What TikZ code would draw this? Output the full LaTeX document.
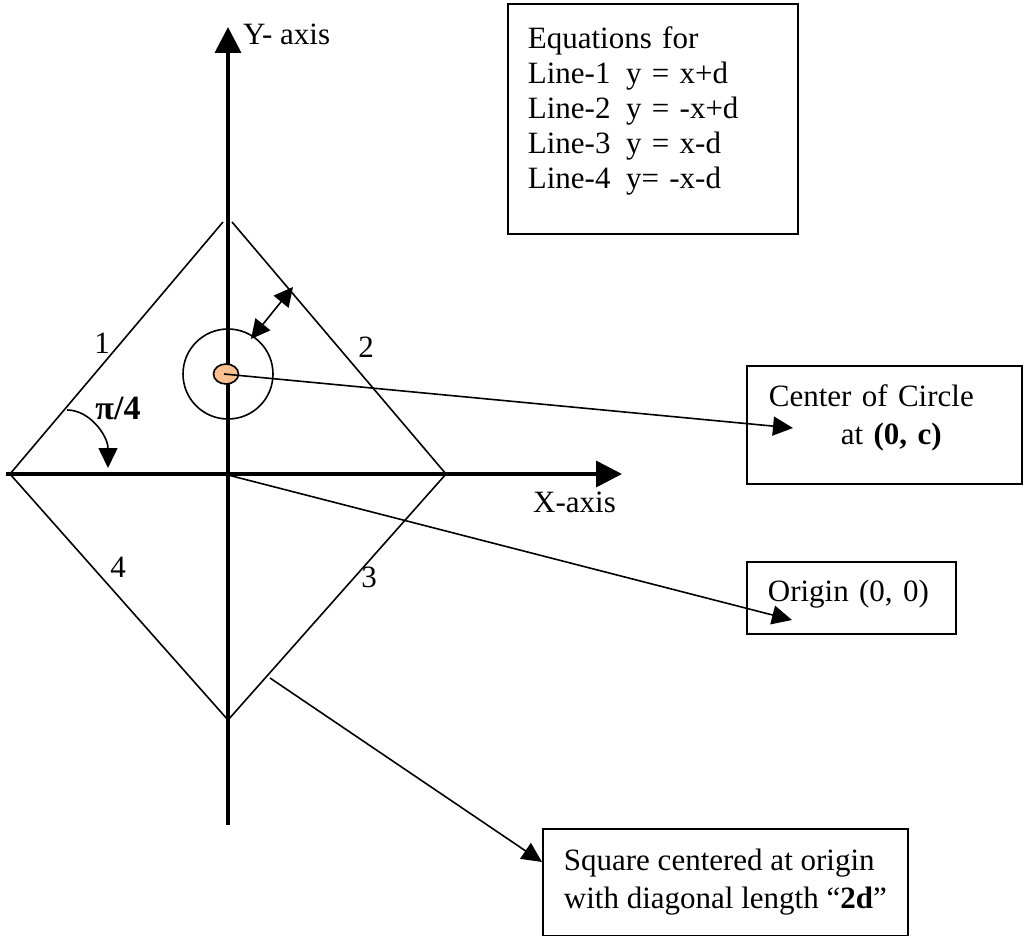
\documentclass[tikz,border=0pt]{standalone}
\usepackage{fontspec}
\setmainfont{Liberation Serif}
\usetikzlibrary{positioning, arrows.meta, calc}
\definecolor{dotfill}{HTML}{FAC08F}
\newcommand{\lowpad}[1]{\rule[-#1]{0pt}{0pt}}

\begin{document}
\begin{tikzpicture}[
    x=1pt, y=-1pt,
    txt/.style={font=\fontsize{31}{35}\selectfont},
    box/.style={draw, line width=1.8pt, anchor=north west, align=left, inner ysep=0pt, txt},
    axis/.style={line width=3.6pt, -{Triangle[length=26pt, width=26pt]}},
    edge/.style={line width=1.6pt},
    arr/.style={line width=1.6pt, -{Triangle[length=20pt, width=19pt]}},
    dbl/.style={line width=1.6pt, {Triangle[length=19pt, width=19pt]}-{Triangle[length=19pt, width=19pt]}},
]
\useasboundingbox (0,0) rectangle (1025,936);

% axes
\coordinate (O) at (228,475);
\coordinate (ytop) at (228,27);
\coordinate (ybot) at (228,825);
\coordinate (xleft) at (6,474);
\coordinate (xright) at (622,474);
\draw[axis] (ybot) -- (ytop);
\draw[axis] (xleft) -- (xright);
\node[txt, anchor=base west, inner sep=0pt] (ylabel) at (243,45) {Y- axis};
\node[txt, anchor=base west, inner sep=0pt] (xlabel) at (533,512) {X-axis};

% square (diamond)
\coordinate (left) at (10,474);
\coordinate (right) at (446,474);
\coordinate (bottom) at (228,720);
\coordinate (topL) at (223,222);
\coordinate (topR) at (232,222);
\draw[edge] (topL) -- (left) -- (bottom) -- (right) -- (topR);
\node[txt] (n1) at (102,343) {1};
\node[txt] (n2) at (366,347) {2};
\node[txt] (n3) at (369,577) {3};
\node[txt] (n4) at (118,567) {4};

% angle
\coordinate (angS) at (67,410);
\coordinate (angE) at (108,468);
\draw[arr] (angS) .. controls (90,410) and (108,436) .. (angE);
\node[font=\fontsize{34}{38}\selectfont\bfseries] (ang) at (118,408) {π/4};

% circle
\coordinate (C) at (228,374);
\draw[edge] (C) circle (45pt);
\draw[edge, fill=dotfill] (226,374) ellipse [x radius=12.5pt, y radius=10pt];
\coordinate (dot) at (224,374);
\coordinate (gapA) at (251,339);
\coordinate (gapB) at (293,287);
\draw[dbl] (gapA) -- (gapB);

% boxes
\node[box, minimum height=230pt, text width=250pt, inner xsep=20pt] (eqbox) at (507,3)
    {Equations for\\Line-1\enspace y = x+d\\Line-2\enspace y = -x+d\\Line-3\enspace y = x-d\\Line-4\enspace y= -x-d\lowpad{23pt}};
\node[box, minimum height=118pt, text width=231pt, inner xsep=22pt] (cbox) at (746,365)
    {Center of Circle\\[3pt]\hspace*{72pt}at \textbf{(0, c)}\lowpad{21pt}};
\node[box, minimum height=72pt, text width=167pt, inner xsep=21pt] (obox) at (746,561)
    {Origin (0, 0)\lowpad{15pt}};
\node[box, minimum height=107pt, inner xsep=21pt, font=\fontsize{31}{38}\selectfont] (sbox) at (542,828)
    {Square centered at origin\\with diagonal length “\textbf{2d}”};

% pointers
\coordinate (ctip) at (793,428);
\coordinate (otip) at (792,620);
\coordinate (sfoot) at (270,678);
\coordinate (stip) at (542,862);
\draw[arr] (dot) -- (ctip);
\draw[arr] (O) -- (otip);
\draw[arr] (sfoot) -- (stip);
\end{tikzpicture}
\end{document}
